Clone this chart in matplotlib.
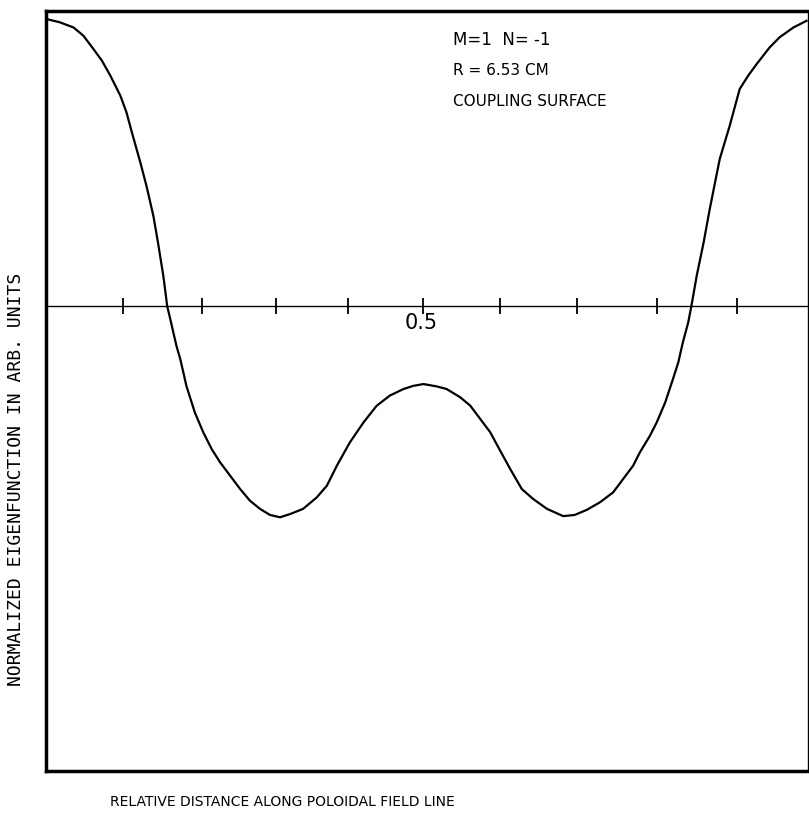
import matplotlib.pyplot as plt

# eigenfunction (x = relative distance, y = normalized amplitude)
x = [0.010, 0.027, 0.045, 0.058, 0.071, 0.082, 0.093, 0.106, 0.114, 0.121, 0.132,
     0.140, 0.149, 0.155, 0.162, 0.167, 0.171, 0.175, 0.179, 0.184, 0.188, 0.192,
     0.203, 0.214, 0.225, 0.236, 0.249, 0.262, 0.275, 0.288, 0.301, 0.314, 0.327,
     0.344, 0.362, 0.375, 0.388, 0.405, 0.423, 0.440, 0.457, 0.475, 0.488, 0.501,
     0.518, 0.531, 0.549, 0.562, 0.575, 0.588, 0.601, 0.614, 0.629, 0.644, 0.662,
     0.683, 0.698, 0.714, 0.731, 0.748, 0.761, 0.774, 0.783, 0.796, 0.805, 0.816,
     0.826, 0.833, 0.839, 0.846, 0.851, 0.857, 0.866, 0.874, 0.887, 0.900, 0.913,
     0.924, 0.935, 0.952, 0.965, 0.983, 1.000]
y = [0.993, 0.982, 0.964, 0.935, 0.889, 0.849, 0.797, 0.728, 0.670, 0.601, 0.497,
     0.416, 0.312, 0.220, 0.104, 0.000, -0.045, -0.091, -0.137, -0.183, -0.229, -0.276,
     -0.368, -0.437, -0.495, -0.541, -0.587, -0.633, -0.674, -0.702, -0.723, -0.731, -0.720,
     -0.702, -0.662, -0.622, -0.553, -0.472, -0.402, -0.345, -0.310, -0.287, -0.276, -0.270,
     -0.278, -0.287, -0.316, -0.345, -0.391, -0.437, -0.501, -0.564, -0.633, -0.668, -0.702,
     -0.727, -0.723, -0.705, -0.679, -0.645, -0.599, -0.553, -0.506, -0.449, -0.402, -0.333,
     -0.253, -0.195, -0.125, -0.056, 0.014, 0.105, 0.220, 0.336, 0.509, 0.624, 0.751,
     0.797, 0.837, 0.895, 0.930, 0.964, 0.987]

# tick marks on the zero line, as drawn (nominally 0.1 apart)
tick_pos = [0.109, 0.212, 0.309, 0.403, 0.500, 0.601, 0.701, 0.805, 0.909]
tick_zero = [0] * len(tick_pos)

fig = plt.figure(figsize=(8.09, 8.20), dpi=100)
ax = fig.add_axes([46 / 809, 48 / 820, 762 / 809, 760 / 820])

ax.plot(x, y, color='black', lw=1.6)

# zero line with ticks through it
ax.axhline(0, color='black', lw=1.0)
ax.plot(tick_pos, tick_zero, ls='none', marker='|', ms=11, mew=1.3, color='black')
ax.text(0.498, -0.021, '0.5', ha='center', va='top', fontsize=15, family='DejaVu Sans')

ax.set_xlim(0.0091, 1.002)
ax.set_ylim(-1.609, 1.021)
ax.set_xticks([])
ax.set_yticks([])
for s in ['left', 'bottom', 'top']:
    ax.spines[s].set_linewidth(2.5)
ax.spines['right'].set_linewidth(1.0)

ax.text(0.539, 0.924, 'M=1  N= -1', fontsize=12, va='center', family='DejaVu Sans')
ax.text(0.539, 0.820, 'R = 6.53 CM', fontsize=11, va='center', family='DejaVu Sans')
ax.text(0.539, 0.713, 'COUPLING SURFACE', fontsize=11, va='center', family='DejaVu Sans')

fig.text(16 / 809, 1 - 479 / 820, 'NORMALIZED EIGENFUNCTION IN ARB. UNITS',
         rotation=90, ha='center', va='center', fontsize=13, family='DejaVu Sans Mono')
fig.text(110 / 809, 1 - 802 / 820, 'RELATIVE DISTANCE ALONG POLOIDAL FIELD LINE',
         ha='left', va='center', fontsize=10, family='DejaVu Sans')

fig.savefig('out.png', dpi=100)
